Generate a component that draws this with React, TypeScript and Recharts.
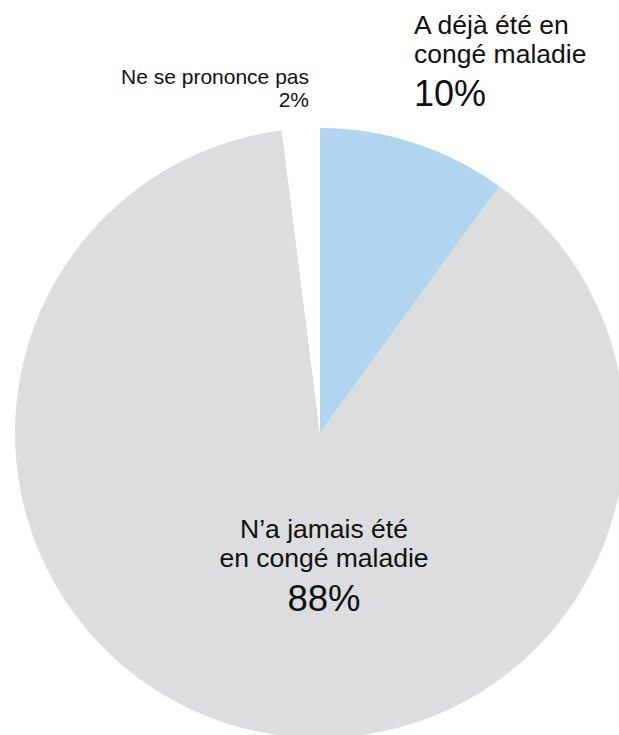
import React from 'react';
import { PieChart, Pie, Cell } from 'recharts';

const categories = ['A déjà été en congé maladie', 'N’a jamais été en congé maladie', 'Ne se prononce pas'];
const labelLines = [['A déjà été en', 'congé maladie'], ['N’a jamais été', 'en congé maladie'], ['Ne se prononce pas']];
const shares = [10, 88, 2];
const colors = ['#b1d5ee', '#dcdddf', '#ffffff'];

const data = categories.map((name, i) => ({ name, value: shares[i] }));

const FONT = '"Liberation Sans", Arial, Helvetica, sans-serif';

const renderLabel = (props: any) => {
  const { cx, cy, index, value } = props;
  const lines = labelLines[index];
  if (index === 0) {
    const x = cx + 94;
    return (
      <g>
        <text x={x} y={cy - 399} fontSize={26.5} fill="#111" fontFamily={FONT}>{lines[0]}</text>
        <text x={x} y={cy - 370} fontSize={26.5} fill="#111" fontFamily={FONT}>{lines[1]}</text>
        <text x={x} y={cy - 327} fontSize={36} fill="#111" fontFamily={FONT}>{value}%</text>
      </g>
    );
  }
  if (index === 1) {
    const x = cx + 4;
    return (
      <g>
        <text x={x} y={cy + 105} fontSize={26.5} fill="#111" fontFamily={FONT} textAnchor="middle">{lines[0]}</text>
        <text x={x} y={cy + 134} fontSize={26.5} fill="#111" fontFamily={FONT} textAnchor="middle">{lines[1]}</text>
        <text x={x} y={cy + 178} fontSize={36.5} fill="#111" fontFamily={FONT} textAnchor="middle">{value}%</text>
      </g>
    );
  }
  const x = cx - 11;
  return (
    <g>
      <text x={x} y={cy - 349} fontSize={21} fill="#111" fontFamily={FONT} textAnchor="end">{lines[0]}</text>
      <text x={x} y={cy - 326} fontSize={21} fill="#111" fontFamily={FONT} textAnchor="end">{value}%</text>
    </g>
  );
};

export default function App() {
  return (
    <div style={{ position: 'absolute', left: 0, top: 0, background: '#fff' }}>
      <PieChart width={619} height={735} margin={{ top: 0, right: 0, bottom: 0, left: 0 }}>
        <Pie
          data={data}
          dataKey="value"
          nameKey="name"
          cx={320}
          cy={433}
          outerRadius={305}
          startAngle={90}
          endAngle={-270}
          stroke="none"
          label={renderLabel}
          labelLine={false}
          isAnimationActive={false}
        >
          {data.map((d, i) => (
            <Cell key={d.name} fill={colors[i]} />
          ))}
        </Pie>
      </PieChart>
    </div>
  );
}
